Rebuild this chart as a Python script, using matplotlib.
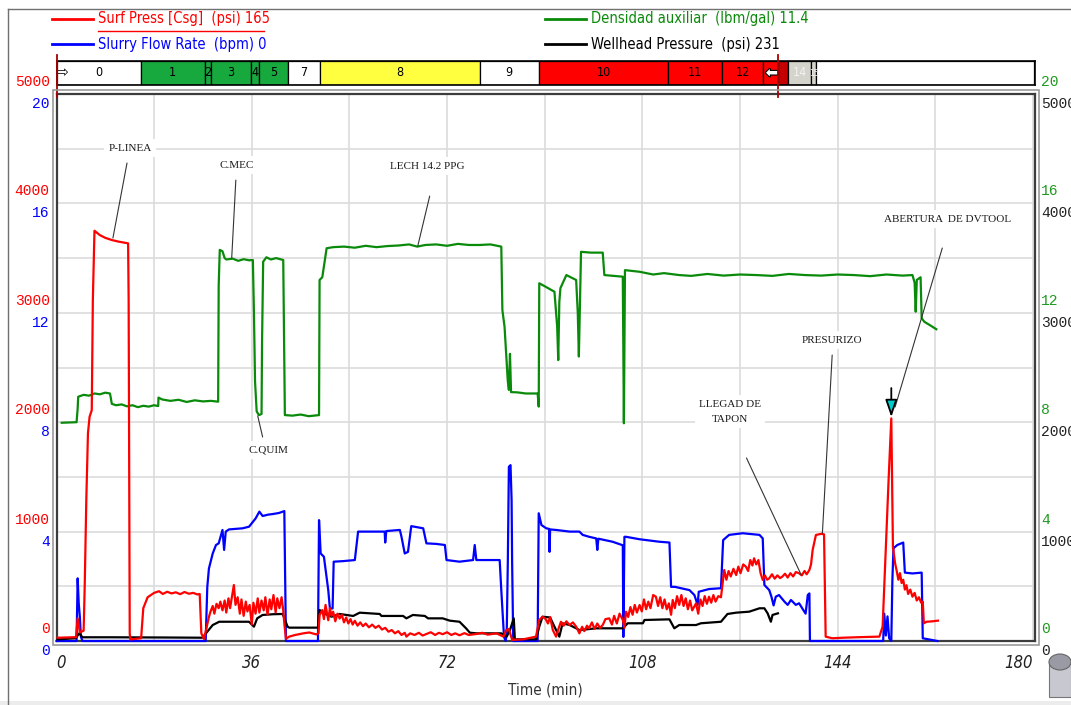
import matplotlib.pyplot as plt
import matplotlib.patheffects as pe
from matplotlib.lines import Line2D
from matplotlib.patches import Rectangle, Ellipse
from matplotlib.transforms import offset_copy

# ---- Surf Press [Csg] (psi) ----
surf_t = [0.2, 3.6, 3.9, 4.3, 5.0, 5.2, 5.5, 5.8, 6.1, 6.5, 6.7, 7.0, 8.0, 9.0, 10.2, 11.5, 13.2, 13.3, 13.5, 13.6,
          15.6, 16.0, 16.8, 17.4, 18.0, 18.9, 19.6, 20.4, 21.2, 22.0, 22.8, 23.6, 24.4, 25.2, 26.0, 26.4, 26.7, 27.2, 27.7, 28.1,
          28.4, 28.8, 29.1, 29.5, 29.9, 30.2, 30.6, 31.0, 31.3, 31.7, 32.0, 32.4, 32.7, 33.0, 33.4, 33.8, 34.1, 34.5, 34.9, 35.2,
          35.6, 36.0, 36.3, 36.7, 37.1, 37.4, 37.8, 38.2, 38.5, 38.9, 39.3, 39.6, 40.0, 40.4, 40.7, 41.1, 41.5, 41.8,
          42.0, 42.3, 42.9, 44.0, 45.5, 46.6, 47.9, 48.3,
          48.5, 49.0, 49.3, 49.6, 50.1, 50.4, 50.7, 51.0, 51.4, 51.8, 52.2, 52.6, 53.0, 53.4, 53.8, 54.2, 54.6, 55.0, 55.5, 56.0,
          56.5, 57.0, 57.6, 58.2, 58.8, 59.4, 60.0, 60.6, 61.2, 61.8, 62.4, 63.0, 63.6, 64.2, 64.5, 65.2, 66.0, 66.8, 67.5, 68.2,
          69.0, 69.8, 70.5, 71.2, 72.0, 72.8, 73.5, 74.3, 75.2, 76.0, 77.4, 78.5, 79.5, 81.1, 82.4, 82.9, 83.4, 84.0, 86.0, 88.4,
          89.0, 89.6, 90.2, 90.6, 91.0, 91.5, 92.1, 92.6, 93.0, 93.5, 94.0, 94.6, 95.2, 95.8, 96.4, 96.9, 97.3, 97.8, 98.2, 98.7,
          99.2, 99.7, 100.2, 100.7, 101.2, 101.9, 102.4, 102.8, 103.3, 103.8, 104.4, 104.7, 105.0, 105.4, 105.8, 106.2, 106.6, 107.0, 107.5, 107.9,
          108.3, 108.7, 109.1, 109.5, 110.0, 110.5, 110.9, 111.3, 111.7, 112.1, 112.5, 112.9, 113.3, 113.6, 114.0, 114.4, 114.8, 115.2, 115.6, 116.0,
          116.4, 116.8, 117.2, 117.9, 118.3, 118.7, 119.1, 119.5, 119.9, 120.3, 120.7, 121.1, 121.5, 122.0, 122.5, 123.1, 123.5, 123.9, 124.3, 124.8,
          125.3, 125.7, 126.1, 126.6, 127.1, 127.5, 127.9, 128.3, 128.6, 129.0, 129.4, 129.8, 130.2, 130.6, 131.0, 131.4, 131.9, 132.4, 132.9, 133.4,
          133.8, 134.3, 134.8, 135.3, 135.8, 136.3, 136.9, 137.4, 137.9, 138.3, 138.8, 139.1, 139.4, 140.0, 141.0, 141.5, 141.8, 143.0, 145.0, 148.0,
          151.7, 152.3, 152.9, 153.4, 153.9, 154.2, 154.6, 154.9, 155.2, 155.5, 155.8, 156.1, 156.4, 156.7, 157.0, 157.4, 157.8, 158.2, 158.6, 159.0,
          159.4, 159.7, 159.9, 160.4, 161.5, 162.5]
surf_psi = [30, 35, 207, 79, 94, 500, 1300, 1900, 2050, 2110, 3117, 3750, 3710, 3685, 3665, 3650, 3635, 3117, 70, 15,
            25, 300, 400, 420, 440, 455, 430, 450, 435, 445, 428, 448, 432, 440, 425, 430, 70, 18, 130, 220,
            270, 320, 250, 340, 300, 360, 280, 370, 260, 390, 300, 420, 512, 330, 400, 250, 380, 230, 360, 270,
            330, 150, 350, 250, 390, 260, 370, 280, 400, 240, 380, 290, 420, 260, 390, 300, 400, 280,
            160, 20, 40, 55, 70, 78, 60, 70,
            238, 283, 200, 330, 190, 300, 230, 268, 180, 250, 205, 240, 170, 215, 160, 200, 150, 185, 140, 170,
            135, 160, 125, 150, 120, 140, 105, 120, 85, 100, 70, 90, 55, 75, 40, 70, 55, 75, 50, 64,
            80, 55, 75, 62, 80, 55, 70, 52, 72, 55, 64, 75, 58, 70, 40, 100, 110, 10, 15, 40,
            192, 222, 200, 160, 220, 100, 40, 120, 176, 140, 180, 146, 170, 131, 70, 130, 90, 140, 116, 170,
            110, 160, 120, 146, 200, 207, 150, 230, 160, 250, 192, 120, 268, 220, 310, 240, 330, 260, 329, 270,
            380, 290, 360, 300, 420, 405, 320, 400, 300, 380, 290, 344, 240, 375, 300, 410, 330, 420, 320, 390,
            290, 370, 280, 344, 250, 380, 320, 410, 340, 405, 350, 420, 360, 410, 400, 649, 560, 640, 590, 660,
            603, 680, 620, 700, 679, 640, 740, 690, 756, 700, 740, 620, 558, 600, 560, 573, 610, 570, 600, 575,
            588, 615, 580, 620, 590, 630, 619, 600, 640, 610, 649, 700, 832, 969, 980, 975, 40, 25, 30, 35,
            40, 131, 862, 1471, 2035, 862, 710, 640, 560, 620, 530, 560, 470, 510, 430, 470, 405, 440, 370, 400,
            350, 360, 162, 176, 180, 186]

# ---- Slurry Flow Rate (bpm) ----
rate_t = [0.0, 3.7, 3.9, 4.1, 4.3, 4.5, 4.8, 27.5, 27.8, 28.1, 28.8, 29.4, 29.9, 30.6, 30.9, 31.2, 31.8, 33.0, 34.3, 35.5,
          36.7, 37.4, 38.0, 39.0, 39.8, 41.0, 42.0, 42.3, 48.2, 48.4, 48.7, 49.3, 50.1, 50.4, 50.9, 51.1, 52.8, 55.0, 55.6, 57.7,
          60.5, 60.6, 60.8, 63.3, 63.6, 64.2, 64.8, 65.4, 67.6, 68.2, 70.0, 71.6, 71.9, 74.3, 76.8, 77.1, 77.4, 81.7, 82.0, 82.5,
          82.8, 83.0, 83.2, 83.4, 83.7, 83.9, 84.0, 84.2, 88.7, 88.9, 89.4, 90.3, 90.8, 90.9, 91.0, 92.1, 94.6, 96.4, 97.0, 98.2,
          99.5, 99.7, 99.9, 102.5, 104.4, 104.5, 104.7, 105.0, 107.5, 108.7, 111.1, 113.0, 113.3, 114.0, 116.7, 117.6, 118.2, 118.4, 120.3, 122.5,
          122.9, 124.0, 126.5, 129.6, 130.2, 130.5, 131.4, 131.8, 132.2, 132.6, 133.2, 134.2, 134.8, 135.4, 136.3, 136.9, 137.5, 138.1, 138.5, 138.8,
          138.9, 152.4, 152.6, 152.9, 153.2, 153.5, 153.9, 154.1, 154.3, 155.0, 156.1, 156.4, 157.8, 159.5, 159.7, 162.4]
rate_bpm = [0, 0, 2.29, 1.37, 0.89, 0.15, 0, 0, 1.98, 2.65, 3.2, 3.51, 3.57, 4.06, 3.33, 4.0, 4.08, 4.1, 4.12, 4.18,
            4.48, 4.73, 4.57, 4.62, 4.64, 4.68, 4.75, 0, 0, 4.42, 3.2, 3.08, 1.86, 1.19, 1.19, 2.9, 2.92, 2.96, 4.0, 4.0,
            4.0, 3.6, 4.02, 4.06, 3.81, 3.2, 3.26, 4.2, 4.12, 3.57, 3.55, 3.51, 2.96, 2.9, 2.96, 3.51, 2.96, 2.96, 1.86, 0.15,
            0, 0.28, 2.85, 6.37, 6.43, 5.15, 2.85, 0, 0, 4.67, 4.24, 4.12, 4.1, 3.26, 4.08, 4.06, 4.0, 4.0, 3.88, 3.81,
            3.75, 3.33, 3.74, 3.63, 3.5, 0.15, 3.81, 3.81, 3.72, 3.69, 3.63, 3.6, 1.98, 1.98, 1.86, 1.68, 1.32, 1.8, 1.9, 1.93,
            3.69, 3.88, 3.94, 3.88, 3.75, 2.05, 1.86, 1.62, 1.3, 1.62, 1.68, 1.44, 1.32, 1.5, 1.32, 1.38, 1.19, 1.0, 1.68, 1.74,
            0, 0, 1.0, 0.2, 0.9, 0.1, 0, 2.23, 3.39, 3.51, 3.6, 2.5, 2.47, 2.5, 0.1, 0]

# ---- Densidad auxiliar (lbm/gal) ----
dens_t = [0.96, 3.7, 3.9, 4.0, 5.0, 6.0, 7.0, 8.0, 9.0, 9.85, 10.0, 10.2, 11.0, 12.0, 13.0, 14.0, 15.0, 16.0, 17.0, 18.0,
          18.75, 18.8, 19.5, 21.0, 22.5, 24.0, 25.5, 27.0, 28.5, 29.8, 29.9, 30.1, 30.6, 31.0, 31.3, 32.5, 33.5, 34.5, 35.5, 36.2,
          36.4, 36.6, 36.9, 37.3, 37.8, 37.9, 38.1, 38.7, 39.5, 40.5, 41.8, 42.1, 43.5, 45.0, 46.5, 48.4, 48.5, 49.0, 49.8, 51.0,
          53.0, 55.0, 57.0, 59.0, 61.0, 63.0, 65.0, 66.5, 68.0, 70.0, 72.0, 74.0, 76.0, 78.0, 80.0, 82.0, 82.2, 82.6, 83.2, 83.4,
          83.6, 83.8, 85.0, 86.5, 88.7, 88.9, 89.0, 90.2, 91.8, 92.3, 92.5, 92.7, 92.9, 94.0, 95.8, 96.1, 96.3, 96.7, 98.5, 100.7,
          101.0, 104.4, 104.6, 104.8, 107.5, 110.0, 112.0, 114.8, 117.0, 120.0, 123.0, 126.0, 129.0, 132.0, 135.0, 138.0, 141.0, 144.0, 147.0, 150.0,
          153.0, 156.0, 157.8, 158.2, 158.4, 158.6, 159.3, 159.5, 160.0, 161.0, 162.2]
dens_ppg = [7.98, 8.0, 8.5, 8.93, 9.0, 8.97, 9.05, 9.02, 9.08, 9.05, 8.9, 8.67, 8.62, 8.65, 8.58, 8.62, 8.55, 8.6, 8.57, 8.62,
            8.59, 8.9, 8.83, 8.78, 8.82, 8.74, 8.8, 8.76, 8.78, 8.75, 13.0, 14.3, 14.25, 14.0, 13.95, 13.98, 13.9, 13.96, 13.92, 13.93,
            12.0, 9.5, 8.4, 8.26, 8.3, 11.0, 13.87, 14.03, 13.95, 14.0, 13.93, 8.26, 8.24, 8.28, 8.22, 8.26, 13.2, 13.3, 14.36, 14.4,
            14.42, 14.38, 14.45, 14.4, 14.44, 14.46, 14.5, 14.42, 14.48, 14.5, 14.45, 14.52, 14.48, 14.48, 14.5, 14.42, 12.1, 11.49, 9.5, 9.18,
            10.5, 9.1, 9.09, 9.05, 9.05, 8.57, 13.08, 12.95, 12.77, 11.5, 10.27, 12.4, 12.9, 13.38, 13.2, 12.0, 10.4, 14.23, 14.2, 14.2,
            13.38, 13.32, 7.96, 13.56, 13.5, 13.4, 13.45, 13.38, 13.35, 13.42, 13.36, 13.4, 13.38, 13.35, 13.42, 13.38, 13.36, 13.4, 13.38, 13.34,
            13.4, 13.36, 13.38, 13.1, 12.04, 13.2, 13.3, 11.8, 11.67, 11.55, 11.4]

# ---- Wellhead Pressure (psi) ----
whp_t = [0.2, 3.5, 4.2, 4.8, 10.0, 20.0, 26.9, 27.8, 28.8, 30.0, 33.0, 35.5, 36.4, 37.0, 38.0, 40.0, 41.7, 42.6, 42.9, 48.2,
         48.5, 49.3, 50.7, 52.2, 54.7, 55.9, 59.6, 59.9, 63.9, 64.5, 65.7, 67.9, 68.5, 71.2, 72.5, 74.3, 74.9, 75.5, 76.2, 77.4,
         82.0, 83.0, 83.6, 84.3, 84.5, 88.4, 89.0, 89.6, 91.0, 92.1, 92.7, 93.3, 94.6, 95.8, 96.4, 99.5, 104.4, 105.3, 108.1, 108.4,
         113.0, 113.9, 114.8, 117.9, 118.8, 122.5, 123.7, 125.3, 127.7, 129.6, 130.5, 131.1, 131.7, 132.0, 133.0]
whp_psi = [15, 25, 70, 34, 34, 32, 30, 85, 146, 176, 176, 176, 131, 207, 238, 245, 247, 131, 122, 122,
           283, 253, 222, 247, 229, 259, 247, 229, 229, 207, 238, 229, 207, 207, 186, 176, 146, 116, 76, 70,
           70, 40, 100, 207, 15, 15, 131, 222, 215, 100, 40, 162, 146, 116, 100, 116, 116, 162, 162, 192,
           198, 116, 146, 146, 162, 176, 247, 259, 268, 299, 299, 253, 176, 238, 253]

# ---- job stages shown in the bar above the plot ----
stage_start = [0.1, 15.6, 27.3, 28.5, 35.8, 37.3, 42.6, 48.5, 78.0, 88.9, 112.8, 122.7, 130.3, 133.1, 134.9, 139.1, 140.1]
stage_end = [15.6, 27.3, 28.5, 35.8, 37.3, 42.6, 48.5, 78.0, 88.9, 112.8, 122.7, 130.3, 133.1, 134.9, 139.1, 140.1, 180.2]
stage_labels = ['0', '1', '2', '3', '4', '5', '7', '8', '9', '10', '11', '12', '', '', '14', '15', '']
stage_colors = ['white', '#17a83e', '#17a83e', '#17a83e', '#17a83e', '#17a83e', 'white', '#ffff40', 'white',
                '#ff0000', '#ff0000', '#ff0000', '#ff0000', '#c40000', '#d4d4cc', '#d4d4cc', 'white']

psi_ticks = [0, 1000, 2000, 3000, 4000, 5000]
rate_ticks = [0, 4, 8, 12, 16, 20]
time_ticks = [0, 36, 72, 108, 144, 180]

notes = ['P-LINEA', 'C.MEC', 'LECH 14.2 PPG', 'C.QUIM', 'LLEGAD DE\nTAPON', 'PRESURIZO', 'ABERTURA  DE DVTOOL']
note_text_xy = [(13.55, 4506), (33.2, 4351), (68.4, 4341), (39.0, 1746), (124.2, 2096), (142.9, 2751), (164.2, 3857)]
note_line_from = [(13.0, 4369), (33.06, 4213), (68.8, 4067), (38.0, 1865), (127.2, 1673), (143.0, 2614), (163.3, 3592)]
note_target = [(10.4, 3683), (32.3, 3500), (66.6, 3610), (37.1, 2057), (137.3, 603), (141.2, 987), (154.6, 2139)]

NARROW = ['Liberation Sans Narrow', 'DejaVu Sans']
MONO = ['Liberation Mono', 'DejaVu Sans Mono']
SERIF = ['Liberation Serif', 'DejaVu Serif']
RED, BLUE, GREEN = '#ff0000', '#0000ff', '#0a8a0a'

W, H = 1071, 705


def fx(px):
    return px / W


def fy(py):
    return 1 - py / H


fig = plt.figure(figsize=(W / 100, H / 100), dpi=100)

# window frame
fig.add_artist(Line2D([fx(8), 1], [fy(9), fy(9)], color='#707070', lw=1))
fig.add_artist(Line2D([fx(8), fx(8)], [fy(9), 0], color='#707070', lw=1))
fig.add_artist(Rectangle((0, 0), 1, fy(701), transform=fig.transFigure, color='#ececec', lw=0))

ax = fig.add_axes([fx(56.5), fy(641), fx(1034.5) - fx(56.5), fy(94) - fy(641)])
ax.set_xlim(0, 180.3)
ax.set_ylim(0, 5000)
ax.set_yticks(range(0, 5001, 500))
ax.set_xticks(time_ticks)
ax.set_xticks([18, 54, 90, 126, 162], minor=True)
ax.grid(which='both', color='#dcdcdc', lw=1.2)
ax.tick_params(which='both', length=0, labelleft=False, pad=9)
ax.set_xticklabels([str(t) for t in time_ticks], fontstyle='italic', fontsize=12,
                   family=NARROW, fontstretch='condensed', color='#222222')
tl = ax.get_xticklabels()
tl[0].set_ha('left')
tl[-1].set_ha('right')
for s in ax.spines.values():
    s.set_color('#3c3c3c')
    s.set_linewidth(1.6)
fig.add_artist(Rectangle((fx(52.5), fy(644.5)), fx(1038.5) - fx(52.5), fy(90) - fy(644.5),
                         transform=fig.transFigure, fill=False, ec='#9a9a9a', lw=1.2))
ax.set_xlabel('Time (min)', family=NARROW, fontstretch='condensed', fontsize=11,
              color='#333333', labelpad=8)

ax_rate = ax.twinx()
ax_rate.set_ylim(0, 20)
ax_rate.axis('off')
ax_psi = ax.twinx()
ax_psi.set_ylim(0, 5000)
ax_psi.axis('off')

ax_rate.plot(dens_t, dens_ppg, color=GREEN, lw=1.6, clip_on=False)
ax_rate.plot(rate_t, rate_bpm, color=BLUE, lw=1.6, clip_on=False)
ax_psi.plot(whp_t, whp_psi, color='black', lw=1.6, clip_on=False)
ax_psi.plot(surf_t, surf_psi, color=RED, lw=1.6, clip_on=False)

# axis scales drawn as coloured labels beside the plot
left_up = offset_copy(ax.get_yaxis_transform(), fig=fig, y=5, units='dots')
left_dn = offset_copy(ax.get_yaxis_transform(), fig=fig, y=-3, units='dots')
for v, r in zip(psi_ticks, rate_ticks):
    ax.text(-0.007, v, str(v), transform=left_up, ha='right', va='bottom', color=RED,
            family=MONO, fontsize=10.5)
    ax.text(-0.007, v, str(r), transform=left_dn, ha='right', va='top', color=BLUE,
            family=MONO, fontsize=10.5)
    ax.text(1.007, v, str(r), transform=left_up, ha='left', va='bottom', color='#1f9a1f',
            family=MONO, fontsize=10.5)
    ax.text(1.007, v, str(v), transform=left_dn, ha='left', va='top', color='#222222',
            family=MONO, fontsize=10.5)

# annotations
for label, txy, lxy, xy in zip(notes, note_text_xy, note_line_from, note_target):
    ax_psi.annotate('', xy=xy, xytext=lxy,
                    arrowprops=dict(arrowstyle='-', color='#333333', lw=0.8, shrinkA=0, shrinkB=0))
    ax_psi.text(txy[0], txy[1], label, ha='center', va='center', family=SERIF, fontsize=8,
                linespacing=1.9, color='#1a1a1a', zorder=6,
                bbox=dict(fc='white', ec='none', pad=3))
ax_psi.annotate('', xy=(153.9, 2047), xytext=(153.9, 2312),
                arrowprops=dict(arrowstyle='-|>,head_length=1.05,head_width=0.36', fc='#00cccc',
                                ec='black', lw=1.3, shrinkA=0, shrinkB=0))

# stage bar
ax_st = fig.add_axes([fx(56.5), fy(85), fx(1034.5) - fx(56.5), fy(61) - fy(85)])
ax_st.set_xlim(0, 180.3)
ax_st.set_ylim(0, 1)
ax_st.set_xticks([])
ax_st.set_yticks([])
for s in ax_st.spines.values():
    s.set_linewidth(1.2)
widths = [e - s for s, e in zip(stage_start, stage_end)]
ax_st.bar(stage_start, 1, width=widths, align='edge', color=stage_colors, edgecolor='black', lw=0.9)
for s, w, lab in zip(stage_start, widths, stage_labels):
    c = '#f2f2f2' if lab in ('14', '15') else 'black'
    ax_st.text(s + w / 2, 0.5, lab, ha='center', va='center', family=NARROW, fontstretch='condensed',
               fontsize=6 if lab == '15' else 9, color=c)
ax_st.text(0.9, 0.5, '⇨', ha='center', va='center', fontsize=11, family='DejaVu Sans')
ax_st.text(131.9, 0.5, '⬅', ha='center', va='center', fontsize=11, family='DejaVu Sans', color='white',
           path_effects=[pe.withStroke(linewidth=1.6, foreground='black')])
for t in (0.1, 133.1):
    ax_st.plot([t, t], [1.25, -0.5], color='#a80000', lw=1.3, clip_on=False, zorder=5)

# legend entries
legend = [('Surf Press [Csg]  (psi) 165', RED, 52, 19),
          ('Slurry Flow Rate  (bpm) 0', BLUE, 52, 44),
          ('Densidad auxiliar  (lbm/gal) 11.4', GREEN, 545, 19),
          ('Wellhead Pressure  (psi) 231', 'black', 545, 44)]
for text, color, x0, y0 in legend:
    fig.add_artist(Line2D([fx(x0), fx(x0 + 41)], [fy(y0), fy(y0)], color=color, lw=2))
    fig.text(fx(x0 + 46), fy(y0), text, color=color, family=NARROW, fontstretch='condensed',
             fontsize=10.5, va='center')
fig.add_artist(Line2D([fx(98), fx(264)], [fy(31), fy(31)], color=RED, lw=1))

# small cylinder icon in the corner
fig.add_artist(Rectangle((fx(1049), fy(697)), fx(22), fy(662) - fy(697), transform=fig.transFigure,
                         fc='#c8c8d0', ec='#777777', lw=0.8))
fig.add_artist(Ellipse((fx(1060), fy(662)), fx(22), fy(654) - fy(670), transform=fig.transFigure,
                       fc='#9a9aa4', ec='#666666', lw=0.8))

fig.savefig('out.png', dpi=100)
